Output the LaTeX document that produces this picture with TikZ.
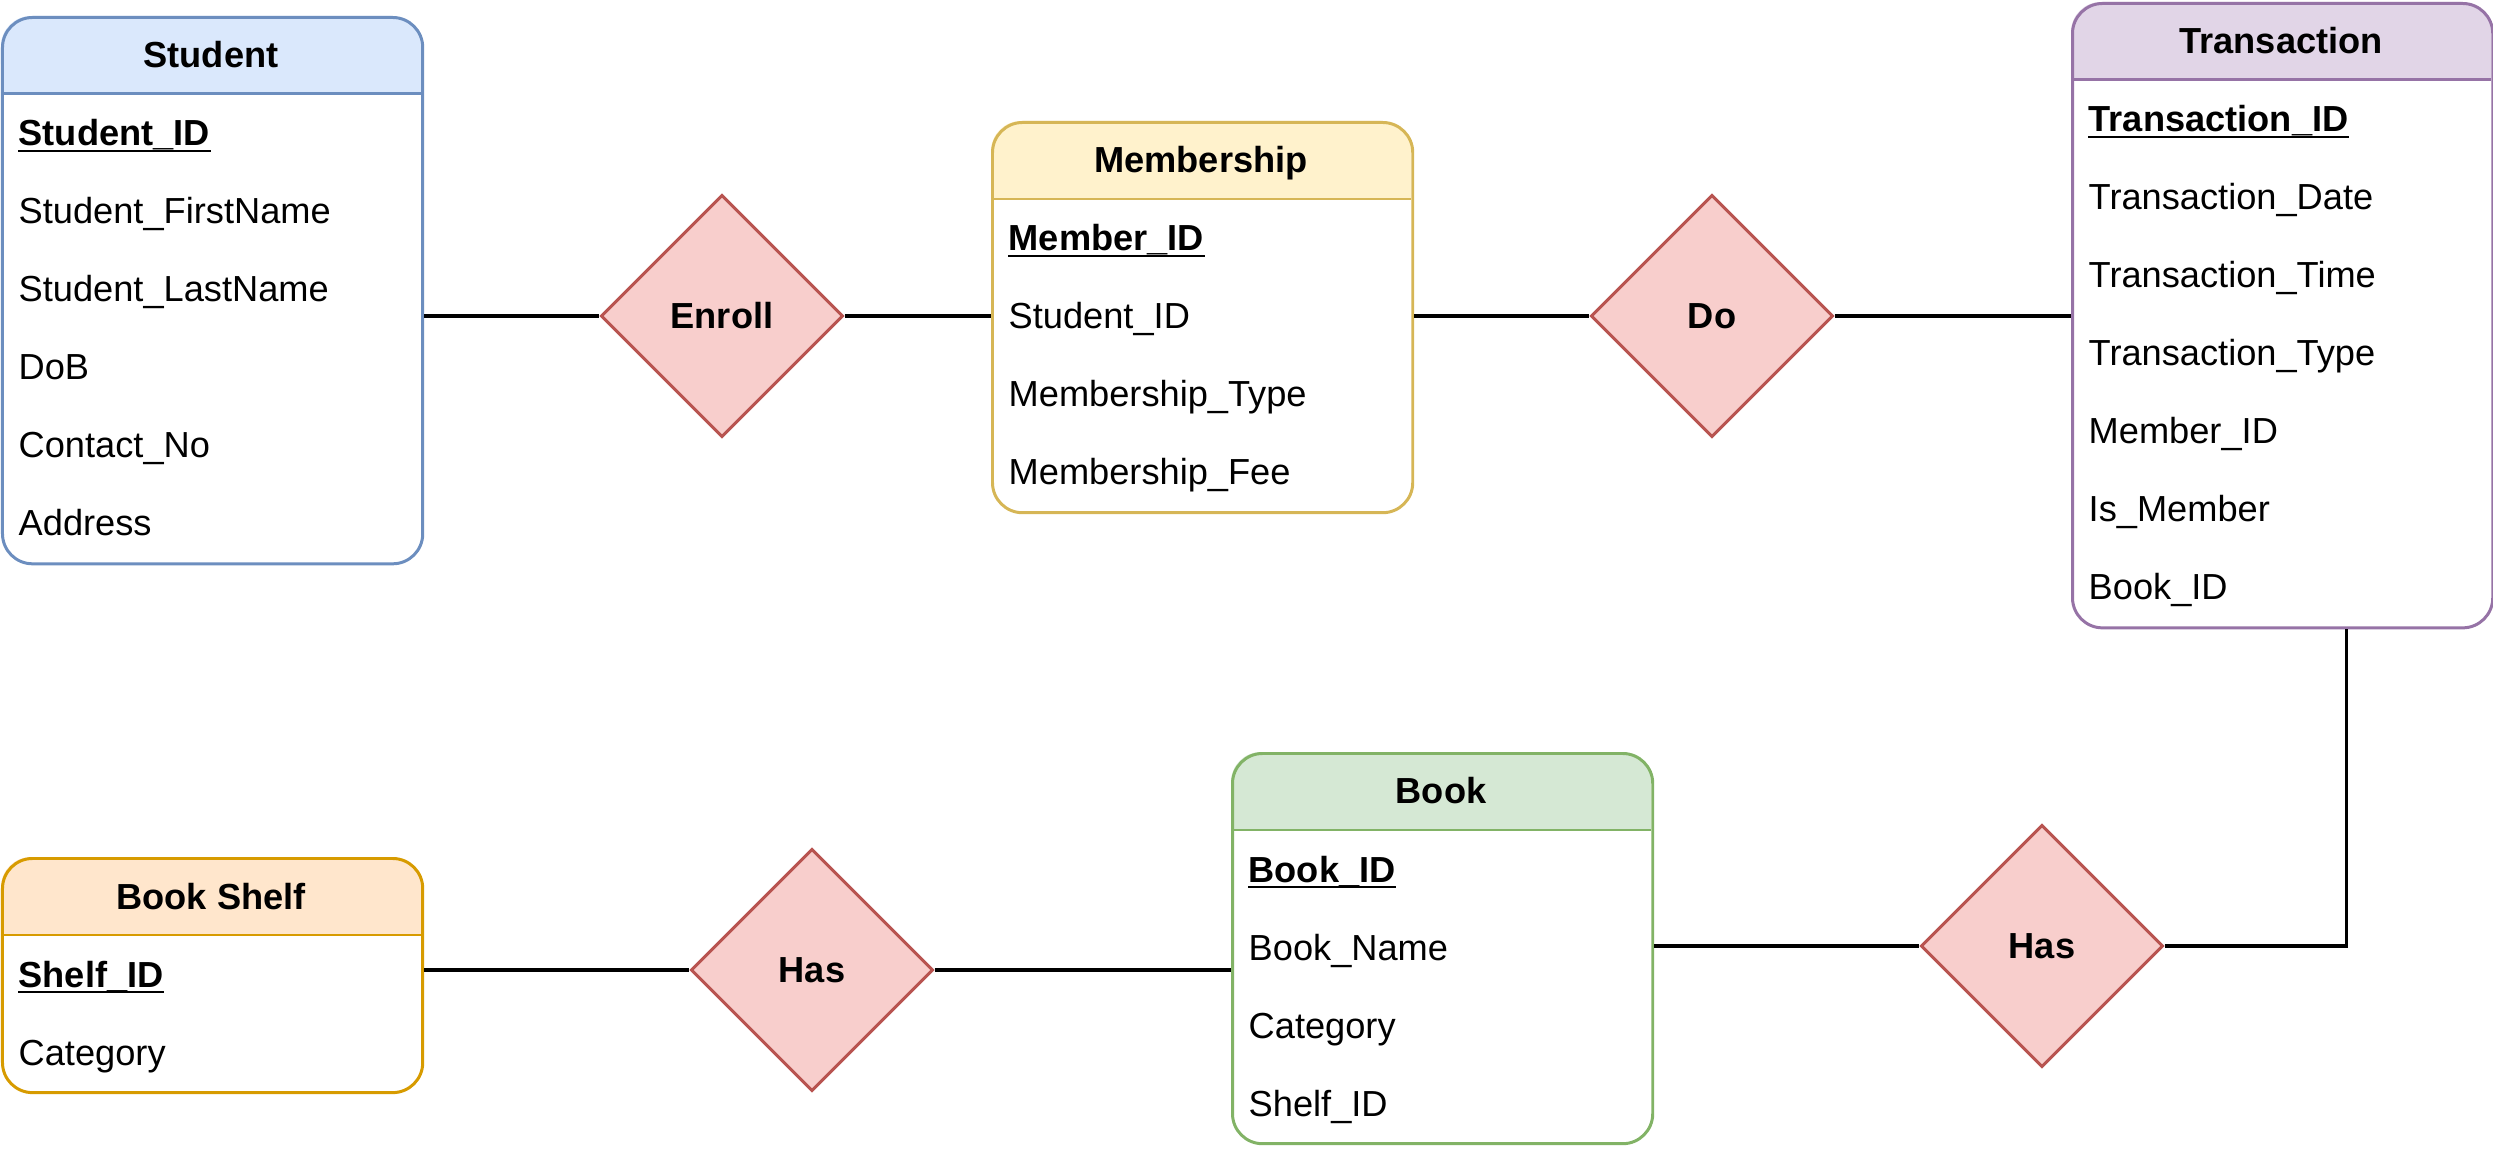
\documentclass[tikz,border=0pt]{standalone}
\usepackage{fontspec}
\setmainfont{Liberation Sans}
\usetikzlibrary{shapes.geometric}
\definecolor{bluef}{HTML}{DAE8FC}\definecolor{blues}{HTML}{6C8EBF}
\definecolor{yelf}{HTML}{FFF2CC}\definecolor{yels}{HTML}{D6B656}
\definecolor{purf}{HTML}{E1D5E7}\definecolor{purs}{HTML}{9673A6}
\definecolor{oraf}{HTML}{FFE6CC}\definecolor{oras}{HTML}{D79B00}
\definecolor{grnf}{HTML}{D5E8D4}\definecolor{grns}{HTML}{82B366}
\definecolor{redf}{HTML}{F8CECC}\definecolor{reds}{HTML}{B85450}
\tikzset{
  txt/.style={inner sep=0pt, font=\fontsize{10.3pt}{12pt}\selectfont},
  attr/.style={txt, anchor=base west},
  ttl/.style={txt, anchor=base, font=\fontsize{10.3pt}{12pt}\selectfont\bfseries},
  keyattr/.style={attr, font=\fontsize{10.3pt}{12pt}\selectfont\bfseries},
  ul/.style={line width=0.8pt},
  entbox/.style={draw, line width=0.85pt, rounded corners=0.3cm, inner sep=0pt,
    minimum width=4.2cm, anchor=north west},
  rel/.style={diamond, aspect=1, draw=reds, fill=redf, line width=0.85pt,
    minimum width=2.42cm, minimum height=2.42cm, inner sep=0pt,
    font=\fontsize{10.3pt}{12pt}\selectfont\bfseries},
  conn/.style={draw=black, line width=0.9pt}
}
% #1 name, #2 x1, #3 y1, #4 height (cm), #5 fill, #6 stroke, #7 title
\newcommand\entity[7]{%
  \fill[#5, rounded corners=0.3cm] (#2,#3) rectangle (#2+420,#3+78);
  \fill[#5] (#2,#3+40) rectangle (#2+420,#3+78);
  \node[entbox, draw=#6, minimum height=#4] (#1) at (#2,#3) {};
  \draw[#6, line width=0.85pt] (#2,#3+78) -- (#2+420,#3+78);
  \node[ttl] (#1-title) at (#2+210,#3+52) {#7};
}
\begin{document}
\begin{tikzpicture}[x=0.01cm,y=-0.01cm]
\useasboundingbox (0,0) rectangle (2493,1152);

% Student
\entity{student}{1}{16}{5.46cm}{bluef}{blues}{Student}
\node[keyattr] (s1) at (18,146) {Student\_ID\ };
\draw[ul] ([yshift=-0.05cm]s1.base west) -- ([yshift=-0.05cm]s1.base east);
\node[attr] (s2) at (18,224) {Student\_FirstName};
\node[attr] (s3) at (18,302) {Student\_LastName};
\node[attr] (s4) at (18,380) {DoB};
\node[attr] (s5) at (18,458) {Contact\_No};
\node[attr] (s6) at (18,536) {Address};

% Membership
\entity{member}{991}{121}{3.9cm}{yelf}{yels}{Membership}
\node[keyattr] (m1) at (1008,251) {Member\_ID};
\draw[ul] ([yshift=-0.05cm]m1.base west) -- ([yshift=-0.05cm]m1.base east);
\node[attr] (m2) at (1008,329) {Student\_ID};
\node[attr] (m3) at (1008,407) {Membership\_Type};
\node[attr] (m4) at (1008,485) {Membership\_Fee};

% Transaction
\entity{trans}{2071}{2}{6.24cm}{purf}{purs}{Transaction}
\node[keyattr] (t1) at (2088,132) {Transaction\_ID};
\draw[ul] ([yshift=-0.05cm]t1.base west) -- ([yshift=-0.05cm]t1.base east);
\node[attr] (t2) at (2088,210) {Transaction\_Date};
\node[attr] (t3) at (2088,288) {Transaction\_Time};
\node[attr] (t4) at (2088,366) {Transaction\_Type};
\node[attr] (t5) at (2088,444) {Member\_ID};
\node[attr] (t6) at (2088,522) {Is\_Member};
\node[attr] (t7) at (2088,600) {Book\_ID};

% Book Shelf
\entity{shelf}{1}{857}{2.34cm}{oraf}{oras}{Book Shelf}
\node[keyattr] (b1) at (18,987) {Shelf\_ID};
\draw[ul] ([yshift=-0.05cm]b1.base west) -- ([yshift=-0.05cm]b1.base east);
\node[attr] (b2) at (18,1065) {Category};

% Book
\entity{book}{1231}{752}{3.9cm}{grnf}{grns}{Book}
\node[keyattr] (k1) at (1248,882) {Book\_ID};
\draw[ul] ([yshift=-0.05cm]k1.base west) -- ([yshift=-0.05cm]k1.base east);
\node[attr] (k2) at (1248,960) {Book\_Name};
\node[attr] (k3) at (1248,1038) {Category};
\node[attr] (k4) at (1248,1116) {Shelf\_ID};

% Relationships
\node[rel] (enroll) at (722,316) {Enroll};
\node[rel] (do) at (1712,316) {Do};
\node[rel] (has1) at (812,970) {Has};
\node[rel] (has2) at (2042,946) {Has};

% Connectors
\draw[conn] (enroll.west -| student.east) -- (enroll.west);
\draw[conn] (enroll.east) -- (enroll.east -| member.west);
\draw[conn] (do.west -| member.east) -- (do.west);
\draw[conn] (do.east) -- (do.east -| trans.west);
\draw[conn] (has1.west -| shelf.east) -- (has1.west);
\draw[conn] (has1.east) -- (has1.east -| book.west);
\draw[conn] (has2.west -| book.east) -- (has2.west);
\draw[conn] (has2.east) -| ([xshift=0.64cm]trans.south);
\end{tikzpicture}
\end{document}
